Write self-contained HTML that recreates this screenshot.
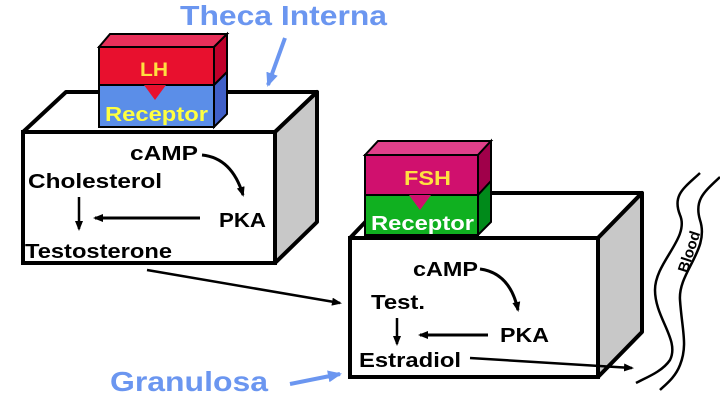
<!DOCTYPE html>
<html><head><meta charset="utf-8"><style>body{margin:0;background:#fff}svg{display:block}text{font-family:"Liberation Sans",sans-serif;font-weight:bold}</style></head><body>
<svg width="720" height="405" viewBox="0 0 720 405">
<defs><marker id="a" markerWidth="10" markerHeight="8" refX="8" refY="4" orient="auto" markerUnits="userSpaceOnUse"><path d="M0,0L10,4L0,8z" fill="#000"/></marker>
<marker id="b" markerWidth="14" markerHeight="12" refX="12" refY="6" orient="auto" markerUnits="userSpaceOnUse"><path d="M0,0L14,6L0,12z" fill="#6b96f0"/></marker></defs>
<text x="180" y="25" font-size="28" fill="#6b96f0" textLength="207" lengthAdjust="spacingAndGlyphs">Theca Interna</text>
<line x1="285" y1="38" x2="268" y2="85" stroke="#6b96f0" stroke-width="4" marker-end="url(#b)"/>
<!-- box1 -->
<polygon points="23,132 66,92 317,92 275,132" fill="#fff" stroke="#000" stroke-width="4" stroke-linejoin="round"/>
<polygon points="275,132 317,92 317,222 275,263" fill="#c8c8c8" stroke="#000" stroke-width="4" stroke-linejoin="round"/>
<rect x="23" y="132" width="252" height="131" fill="#fff" stroke="#000" stroke-width="4"/>
<!-- LH block -->
<polygon points="99,47 110,34 227,34 214,47" fill="#e8305a" stroke="#000" stroke-width="2"/>
<polygon points="214,47 227,34 227,72 214,85" fill="#c0002a" stroke="#000" stroke-width="2"/>
<polygon points="214,85 227,72 227,114 214,127" fill="#4060c8" stroke="#000" stroke-width="2"/>
<rect x="99" y="85" width="115" height="42" fill="#5b8ee8" stroke="#000" stroke-width="2"/>
<rect x="99" y="47" width="115" height="38" fill="#e8102e" stroke="#000" stroke-width="2"/>
<polygon points="144,85 166,85 155,100" fill="#e8102e"/>
<text x="140" y="76" font-size="19" fill="#ffe040" textLength="28" lengthAdjust="spacingAndGlyphs">LH</text>
<text x="105" y="121" font-size="20" fill="#ffff40" textLength="103" lengthAdjust="spacingAndGlyphs">Receptor</text>
<text x="130" y="160" font-size="20" fill="#000" textLength="68" lengthAdjust="spacingAndGlyphs">cAMP</text>
<text x="28" y="188" font-size="20" fill="#000" textLength="134" lengthAdjust="spacingAndGlyphs">Cholesterol</text>
<text x="219" y="227" font-size="20" fill="#000" textLength="47" lengthAdjust="spacingAndGlyphs">PKA</text>
<text x="25" y="258" font-size="20" fill="#000" textLength="147" lengthAdjust="spacingAndGlyphs">Testosterone</text>
<path d="M202,155 Q232,158 243,195" fill="none" stroke="#000" stroke-width="3" marker-end="url(#a)"/>
<line x1="200" y1="218" x2="95" y2="218" stroke="#000" stroke-width="3" marker-end="url(#a)"/>
<line x1="79" y1="197" x2="79" y2="229" stroke="#000" stroke-width="2.5" marker-end="url(#a)"/>
<line x1="147" y1="270" x2="340" y2="303" stroke="#000" stroke-width="2.5" marker-end="url(#a)"/>
<!-- box2 -->
<polygon points="350,238 393,193 642,193 598,238" fill="#fff" stroke="#000" stroke-width="4" stroke-linejoin="round"/>
<polygon points="598,238 642,193 642,332 598,377" fill="#c8c8c8" stroke="#000" stroke-width="4" stroke-linejoin="round"/>
<rect x="350" y="238" width="248" height="139" fill="#fff" stroke="#000" stroke-width="4"/>
<!-- FSH block -->
<polygon points="365,155 378,141 491,141 478,155" fill="#e0408a" stroke="#000" stroke-width="2"/>
<polygon points="478,155 491,141 491,181 478,195" fill="#a0004a" stroke="#000" stroke-width="2"/>
<polygon points="478,195 491,181 491,222 478,235" fill="#008a1a" stroke="#000" stroke-width="2"/>
<rect x="365" y="195" width="113" height="40" fill="#10b020" stroke="#000" stroke-width="2"/>
<rect x="365" y="155" width="113" height="40" fill="#d0106e" stroke="#000" stroke-width="2"/>
<polygon points="409,195 431,195 420,210" fill="#d0106e"/>
<text x="404" y="185" font-size="20" fill="#ffe040" textLength="47" lengthAdjust="spacingAndGlyphs">FSH</text>
<text x="371" y="230" font-size="20" fill="#fff" textLength="103" lengthAdjust="spacingAndGlyphs">Receptor</text>
<text x="413" y="276" font-size="20" fill="#000" textLength="65" lengthAdjust="spacingAndGlyphs">cAMP</text>
<text x="371" y="309" font-size="20" fill="#000" textLength="54" lengthAdjust="spacingAndGlyphs">Test.</text>
<text x="500" y="342" font-size="20" fill="#000" textLength="49" lengthAdjust="spacingAndGlyphs">PKA</text>
<text x="359" y="367" font-size="20" fill="#000" textLength="102" lengthAdjust="spacingAndGlyphs">Estradiol</text>
<path d="M480,269 Q510,273 518,310" fill="none" stroke="#000" stroke-width="3" marker-end="url(#a)"/>
<line x1="488" y1="335" x2="420" y2="335" stroke="#000" stroke-width="3" marker-end="url(#a)"/>
<line x1="397" y1="318" x2="397" y2="344" stroke="#000" stroke-width="2.5" marker-end="url(#a)"/>
<line x1="470" y1="358" x2="632" y2="368" stroke="#000" stroke-width="2.5" marker-end="url(#a)"/>
<text x="110" y="391" font-size="28" fill="#6b96f0" textLength="158" lengthAdjust="spacingAndGlyphs">Granulosa</text>
<line x1="290" y1="384" x2="340" y2="374" stroke="#6b96f0" stroke-width="4" marker-end="url(#b)"/>
<!-- blood -->
<path d="M700,173 C684,188 672,195 680,215 C690,238 655,262 655,290 C655,318 680,340 670,360 C662,372 645,378 636,383" fill="none" stroke="#000" stroke-width="2.5"/>
<path d="M720,177 C704,192 694,200 700,220 C710,250 678,272 680,300 C682,330 688,345 680,365 C675,378 665,385 660,390" fill="none" stroke="#000" stroke-width="2.5"/>
<text x="690" y="256" font-size="15" fill="#000" text-anchor="middle" transform="rotate(-72 690 252)">Blood</text>
</svg>
</body></html>
